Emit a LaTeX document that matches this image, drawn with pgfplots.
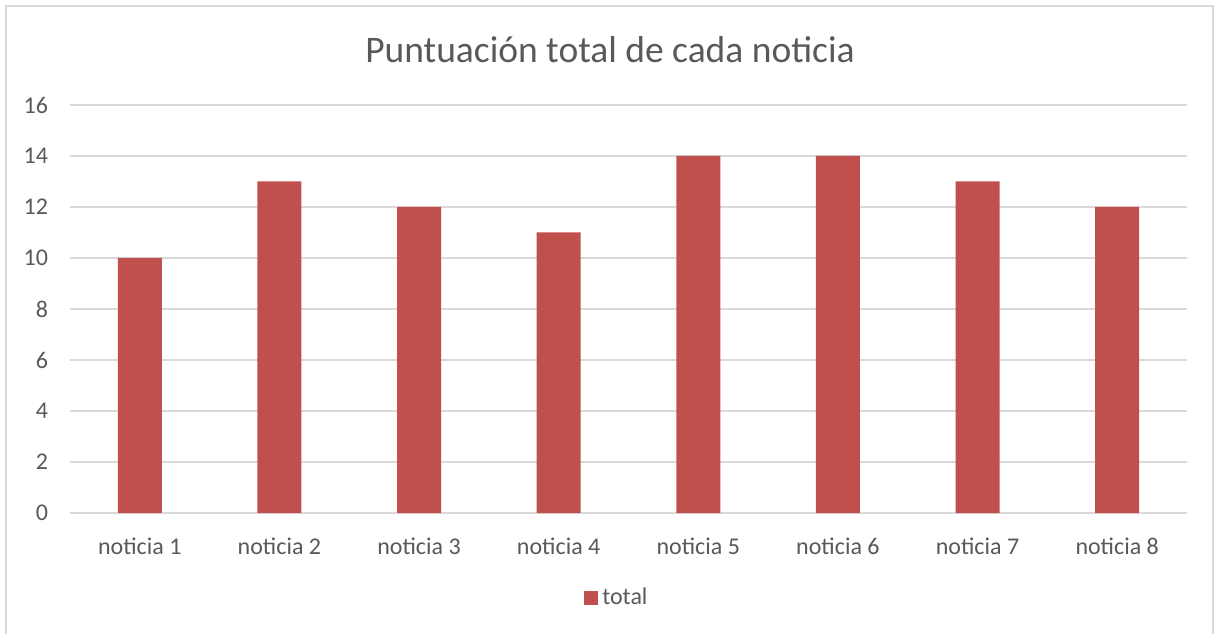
\documentclass[border=0pt]{standalone}
\usepackage{fontspec}
\setmainfont{Carlito}
\usepackage{pgfplots}
\pgfplotsset{compat=1.18}
\definecolor{barred}{HTML}{C0504D}
\definecolor{txtgray}{HTML}{595959}
\definecolor{gridgray}{HTML}{D9D9D9}
\begin{document}
\begin{tikzpicture}
\useasboundingbox (0,0) rectangle (608pt,316.5pt);
\draw[gridgray, line width=1pt] (3pt,-10pt) -- (3pt,313.5pt) -- (606.5pt,313.5pt) -- (606.5pt,-10pt);
\node[font=\fontsize{18.75}{22}\selectfont, text=txtgray] at (305pt,291.5pt) {Puntuación total de cada noticia};
\begin{axis}[
  at={(35pt,60pt)}, anchor=south west,
  scale only axis, width=558.5pt, height=204pt,
  xmin=-0.5, xmax=7.5, ymin=0, ymax=16,
  ytick={0,2,...,16},
  xtick={0,...,7},
  xticklabels={noticia 1,noticia 2,noticia 3,noticia 4,noticia 5,noticia 6,noticia 7,noticia 8},
  /pgf/number format/assume math mode=true,
  axis x line*=bottom, axis y line*=left,
  y axis line style={draw=none},
  x axis line style={draw=gridgray, line width=0.75pt, -},
  major tick length=0pt,
  ymajorgrids,
  grid style={gridgray, line width=0.75pt},
  tick label style={font=\fontsize{12}{14}\selectfont, text=txtgray},
  xticklabel style={yshift=-9pt},
  yticklabel style={xshift=-7.5pt},
  ybar, bar width=22pt,
  legend style={at={(0.4905,-0.208)}, anchor=center, draw=none, fill=none,
    font=\fontsize{12}{14}\selectfont, text=txtgray},
  legend image code/.code={\fill[#1] (-0.5pt,-3.5pt) rectangle (6.5pt,3.5pt);},
]
\addplot[fill=barred, draw=none] coordinates {(0,10) (1,13) (2,12) (3,11) (4,14) (5,14) (6,13) (7,12)};
\addlegendentry{total}
\end{axis}
\end{tikzpicture}
\end{document}
